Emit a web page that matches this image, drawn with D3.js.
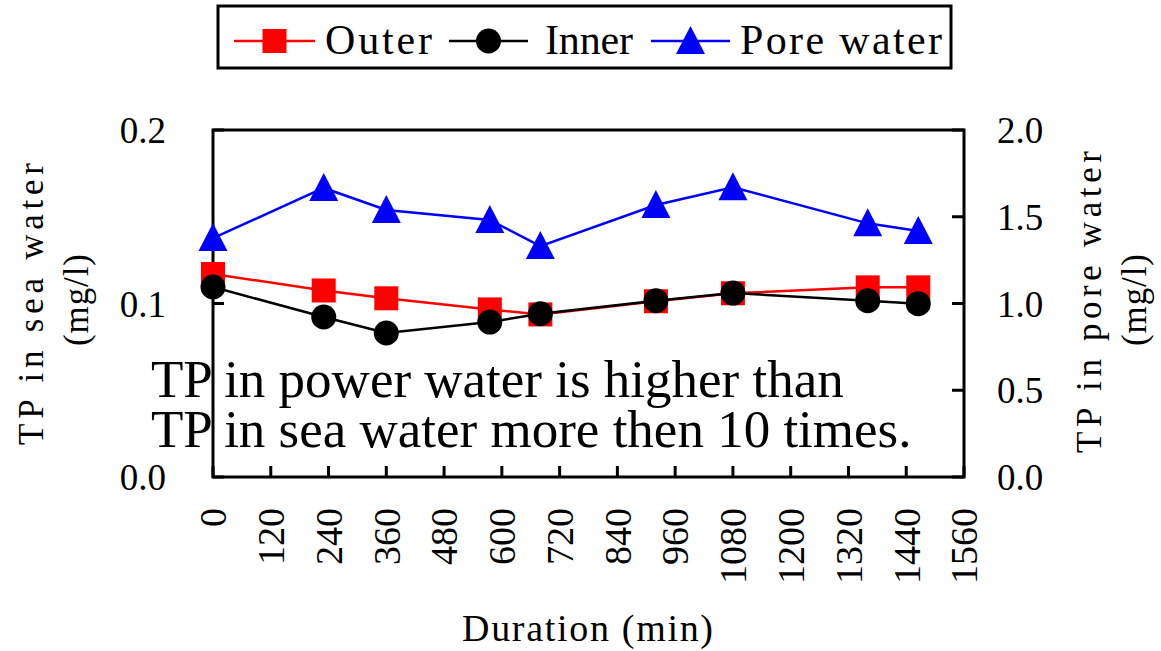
<!DOCTYPE html>
<html><head><meta charset="utf-8">
<script src="https://cdn.jsdelivr.net/npm/d3@7"></script>
<style>body{margin:0;background:#fff}svg{display:block}</style>
</head><body>
<svg id="c" width="1161" height="651"></svg>
<script>
// ---- data ----
const times = [0, 230, 360, 575, 680, 920, 1080, 1360, 1465];          // Duration (min)
const outer = [0.117, 0.1075, 0.103, 0.0966, 0.0937, 0.1013, 0.1059, 0.1093, 0.1093]; // TP sea water, left axis
const inner = [0.1095, 0.0922, 0.083, 0.0893, 0.0941, 0.1016, 0.106, 0.1016, 0.0999]; // TP sea water, left axis
const pore  = [1.377, 1.666, 1.539, 1.481, 1.331, 1.568, 1.670, 1.462, 1.418];         // TP pore water, right axis
const xTicks = [0,120,240,360,480,600,720,840,960,1080,1200,1320,1440,1560];
const yLeftTicks = [0.0, 0.1, 0.2];
const yRightTicks = [0.0, 0.5, 1.0, 1.5, 2.0];
const seriesNames = ["Outer", "Inner", "Pore water"];
const noteLines = ["TP in power water is higher than", "TP in sea water more then 10 times."];

const svg = d3.select("#c");
const L = 213, R = 964, T = 130, B = 477;
const x = d3.scaleLinear().domain([0, 1560]).range([L, R]);
const yL = d3.scaleLinear().domain([0, 0.2]).range([B, T]);
const yR = d3.scaleLinear().domain([0, 2.0]).range([B, T]);
const serif = "'Liberation Serif','Times New Roman',serif";

// markers
function marker(g, shape, color) {
  if (shape === "square") g.append("rect").attr("x",-12).attr("y",-12).attr("width",24).attr("height",24).attr("fill",color);
  else if (shape === "circle") g.append("circle").attr("r",12.5).attr("fill",color);
  else g.append("path").attr("d","M0,-15L14.5,13L-14.5,13Z").attr("fill",color);
}

// annotation text (behind), one text element with two lines
const note = svg.append("text").attr("font-family", serif).attr("font-size", 53).attr("fill","#000");
noteLines.forEach((t,i)=> note.append("tspan").attr("x",151).attr("y",397 + i*50).text(t));

// frame
svg.append("rect").attr("x",L).attr("y",T).attr("width",R-L).attr("height",B-T)
  .attr("fill","none").attr("stroke","#000").attr("stroke-width",3);

// ticks (inward)
const tk = svg.append("g").attr("stroke","#000").attr("stroke-width",3);
xTicks.forEach(v=> tk.append("line").attr("x1",x(v)).attr("x2",x(v)).attr("y1",B).attr("y2",B-11));
yLeftTicks.forEach(v=> tk.append("line").attr("x1",L).attr("x2",L+11).attr("y1",yL(v)).attr("y2",yL(v)));
yRightTicks.forEach(v=> tk.append("line").attr("x1",R).attr("x2",R-12).attr("y1",yR(v)).attr("y2",yR(v)));

// tick labels
const lab = svg.append("g").attr("font-family", serif).attr("fill","#000");
yLeftTicks.forEach(v=> lab.append("text").attr("x",166).attr("y",yL(v)+13).attr("text-anchor","end")
  .attr("font-size",37).text(d3.format(".1f")(v)));
yRightTicks.forEach(v=> lab.append("text").attr("x",997).attr("y",yR(v)+13).attr("text-anchor","start")
  .attr("font-size",37).text(d3.format(".1f")(v)));
xTicks.forEach(v=> lab.append("text").attr("transform",`translate(${x(v)},508) rotate(-90)`)
  .attr("text-anchor","end").attr("dy","0.35em").attr("font-size",38).text(v));

// axis titles
const ttl = svg.append("g").attr("font-family", serif).attr("fill","#000").attr("font-size",35);
ttl.append("text").attr("transform","translate(43,304) rotate(-90)").attr("text-anchor","middle")
  .attr("textLength",282).attr("lengthAdjust","spacing").text("TP in sea water");
ttl.append("text").attr("transform","translate(88,300) rotate(-90)").attr("text-anchor","middle")
  .attr("textLength",92).attr("lengthAdjust","spacing").text("(mg/l)");
ttl.append("text").attr("transform","translate(1101,302) rotate(-90)").attr("text-anchor","middle")
  .attr("textLength",302).attr("lengthAdjust","spacing").text("TP in pore water");
ttl.append("text").attr("transform","translate(1146,300) rotate(-90)").attr("text-anchor","middle")
  .attr("textLength",92).attr("lengthAdjust","spacing").text("(mg/l)");
ttl.append("text").attr("x",462).attr("y",641).attr("font-size",38)
  .attr("textLength",251).attr("lengthAdjust","spacing").text("Duration (min)");

// series
const series = [
  {name: seriesNames[0], vals: outer, y: yL, color: "#ff0000", shape: "square"},
  {name: seriesNames[1], vals: inner, y: yL, color: "#000000", shape: "circle"},
  {name: seriesNames[2], vals: pore,  y: yR, color: "#0000ff", shape: "triangle"}
];
series.forEach(s=>{
  const pts = times.map((t,i)=>[x(t), s.y(s.vals[i])]);
  svg.append("path").attr("d", d3.line()(pts)).attr("fill","none").attr("stroke",s.color).attr("stroke-width",2.5);
  pts.forEach(p=> marker(svg.append("g").attr("transform",`translate(${p[0]},${p[1]})`), s.shape, s.color));
});

// legend
const lg = svg.append("g");
lg.append("rect").attr("x",218).attr("y",6).attr("width",733).attr("height",62)
  .attr("fill","#fff").attr("stroke","#000").attr("stroke-width",3);
const legPos = [{x1:234,x2:315,tx:325,tl:107},{x1:449,x2:528,tx:545,tl:88},{x1:651,x2:730,tx:740,tl:202}];
series.forEach((s,i)=>{
  const p = legPos[i];
  lg.append("line").attr("x1",p.x1).attr("x2",p.x2).attr("y1",41).attr("y2",41).attr("stroke",s.color).attr("stroke-width",2.5);
  marker(lg.append("g").attr("transform",`translate(${(p.x1+p.x2)/2},41)`), s.shape, s.color);
  lg.append("text").attr("x",p.tx).attr("y",54).attr("font-family",serif).attr("font-size",42)
    .attr("textLength",p.tl).attr("lengthAdjust","spacing").text(s.name);
});
</script>
</body></html>
